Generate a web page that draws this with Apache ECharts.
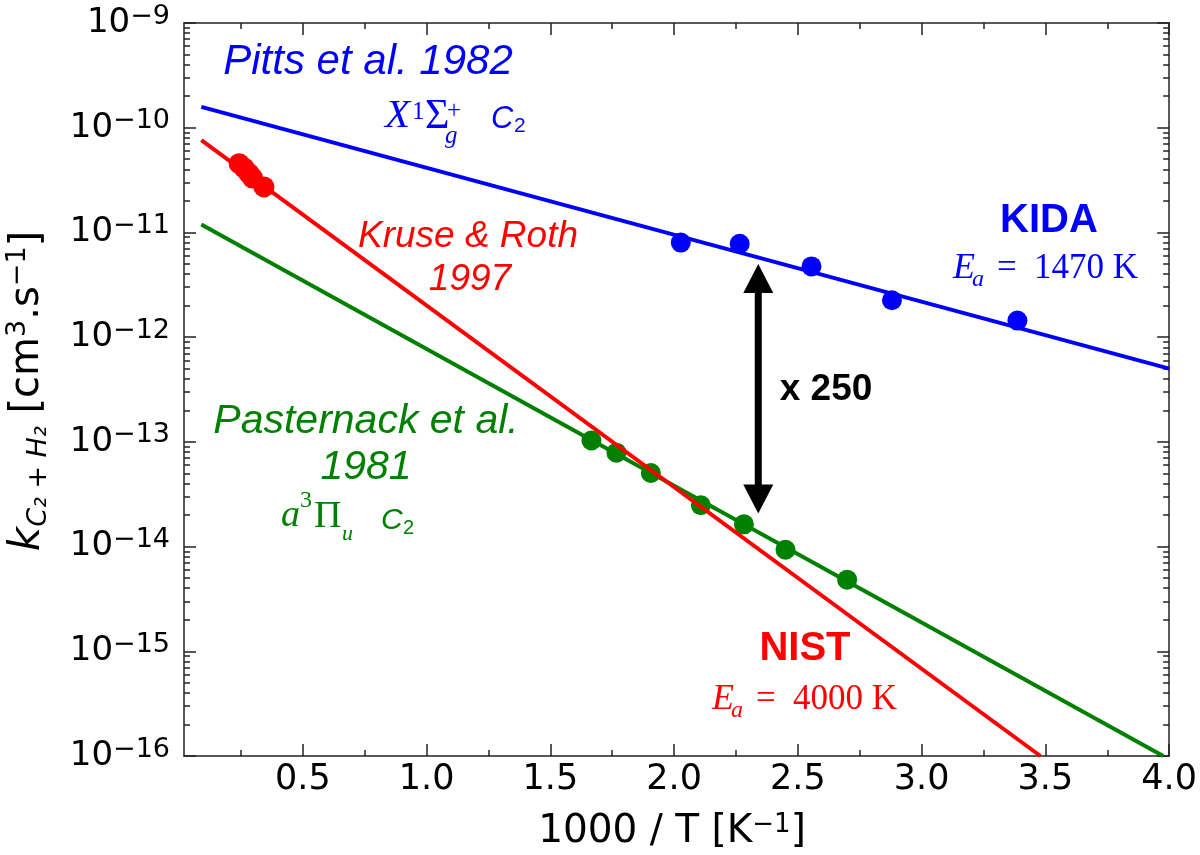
<!DOCTYPE html>
<html>
<head>
<meta charset="utf-8">
<script src="https://cdn.jsdelivr.net/npm/echarts@6/dist/echarts.min.js"></script>
<style>html,body{margin:0;padding:0;background:#fff;}#c{width:1200px;height:855px;}</style>
</head>
<body>
<div id="c"></div>
<script>
// ---- axis ticks ----
const X_TICKS = [0.5, 1.0, 1.5, 2.0, 2.5, 3.0, 3.5, 4.0];
const X_MINOR = [0.25, 0.75, 1.25, 1.75, 2.25, 2.75, 3.25, 3.75];
const X_MIN = 0.02, X_MAX = 4.0;
const Y_EXPONENTS = [-16, -15, -14, -13, -12, -11, -10, -9];
const MINOR_MULT = [2, 3, 4, 5, 6, 7, 8, 9];

// ---- data (k in cm^3 s^-1 vs 1000/T) ----
const blueLineX = [0.09, 4.0];
const blueLineK = [1.58e-10, 5.0e-13];
const bluePtsX = [2.027, 2.265, 2.555, 2.880, 3.387];
const bluePtsK = [8.0e-12, 7.8e-12, 4.74e-12, 2.25e-12, 1.44e-12];

const redLineX = [0.09, 3.48];
const redLineK = [7.6e-11, 1.0e-16];
const redPtsX = [0.243, 0.263, 0.283, 0.297, 0.343];
const redPtsK = [4.54e-11, 4.12e-11, 3.65e-11, 3.31e-11, 2.72e-11];

const greenLineX = [0.09, 3.976];
const greenLineK = [1.19e-11, 1.0e-16];
const greenPtsX = [1.666, 1.767, 1.906, 2.108, 2.282, 2.450, 2.699];
const greenPtsK = [1.03e-13, 7.88e-14, 5.04e-14, 2.48e-14, 1.63e-14, 9.33e-15, 4.83e-15];

const arrowX = [2.34];
const arrowTopK = [5.0e-12];
const arrowBotK = [2.07e-14];

// ---- helpers ----
const lg = v => Math.log10(v);
const pairs = (xs, ks) => xs.map((x, i) => [x, lg(ks[i])]);
const yMinor = [];
Y_EXPONENTS.slice(0, -1).forEach(e => MINOR_MULT.forEach(m => yMinor.push(e + Math.log10(m))));

const BLUE = '#0000ff', RED = '#ff0000', GREEN = '#008000';
const AX = '#222';

function xAx(pos, vals, len, showLine, showLabel) {
  return {
    type: 'value', position: pos, min: X_MIN, max: X_MAX,
    axisLine: { show: showLine, onZero: false, lineStyle: { color: AX, width: 1.5 } },
    axisTick: { show: true, inside: true, length: len, customValues: vals, lineStyle: { color: AX, width: 1.5 } },
    axisLabel: showLabel ? {
      show: true, customValues: vals, margin: 6, color: '#000', fontSize: 35, fontFamily: 'DejaVu Sans',
      formatter: v => v.toFixed(1)
    } : { show: false },
    splitLine: { show: false }
  };
}
function yAx(pos, minor, showLine, showLabel) {
  const o = {
    type: 'value', position: pos, min: -16, max: -9,
    axisLine: { show: showLine, onZero: false, lineStyle: { color: AX, width: 1.5 } },
    axisTick: { show: true, inside: true, length: minor ? 6 : 12, lineStyle: { color: AX, width: 1.5 } },
    axisLabel: { show: false },
    splitLine: { show: false }
  };
  if (minor) o.axisTick.customValues = yMinor; else o.interval = 1;
  if (showLabel) {
    o.axisLabel = {
      show: true, margin: 14, color: '#000', fontSize: 34, fontFamily: 'DejaVu Sans', lineHeight: 40,
      formatter: v => '10{s|\u2212' + Math.abs(Math.round(v)) + '}',
      rich: { s: { fontSize: 27, lineHeight: 27, verticalAlign: 'top', fontFamily: 'DejaVu Sans', color: '#000' } }
    };
  }
  return o;
}

function T(text, x, y, size, color, opts) {
  opts = opts || {};
  return {
    type: 'text', x: x, y: y, z: 100, rotation: opts.rot || 0,
    style: {
      text: text, fill: color, fontSize: size,
      fontFamily: opts.family || 'Liberation Sans',
      fontStyle: opts.italic ? 'italic' : 'normal',
      fontWeight: opts.bold ? 'bold' : 'normal',
      align: opts.align || 'center', verticalAlign: 'middle',
      textAlign: opts.align || 'center', textVerticalAlign: 'middle',
      rich: opts.rich
    }
  };
}
const SERIF = 'Liberation Serif';

const graphics = [
  // Pitts
  T('Pitts et al. 1982', 368, 62, 42, BLUE, { italic: true }),
  T('X', 385, 116, 41, BLUE, { italic: true, family: SERIF, align: 'left' }),
  T('1', 412, 112, 25, BLUE, { family: SERIF, align: 'left' }),
  T('\u03A3', 425, 117, 42, BLUE, { family: SERIF, align: 'left' }),
  T('+', 447, 111, 25, BLUE, { family: SERIF, align: 'left' }),
  T('g', 445, 136, 25, BLUE, { italic: true, family: SERIF, align: 'left' }),
  T('C', 491, 119, 31, BLUE, { italic: true, align: 'left' }),
  T('2', 514, 126, 21, BLUE, { align: 'left' }),
  // KIDA
  T('KIDA', 1049, 221, 40, BLUE, { bold: true }),
  T('E', 953, 269, 36, BLUE, { italic: true, family: SERIF, align: 'left' }),
  T('a', 972, 280, 24, BLUE, { italic: true, family: SERIF, align: 'left' }),
  T('=', 997, 269, 35, BLUE, { family: SERIF, align: 'left' }),
  T('1470 K', 1034, 269, 35, BLUE, { family: SERIF, align: 'left' }),
  // Kruse & Roth
  T('Kruse & Roth', 468, 237, 37, RED, { italic: true }),
  T('1997', 470, 280, 37, RED, { italic: true }),
  // NIST
  T('NIST', 805, 649, 40, RED, { bold: true }),
  T('E', 712, 700, 36, RED, { italic: true, family: SERIF, align: 'left' }),
  T('a', 731, 711, 24, RED, { italic: true, family: SERIF, align: 'left' }),
  T('=', 756, 700, 35, RED, { family: SERIF, align: 'left' }),
  T('4000 K', 793, 700, 35, RED, { family: SERIF, align: 'left' }),
  // Pasternack
  T('Pasternack et al.', 366, 422, 41, GREEN, { italic: true }),
  T('1981', 366, 468, 41, GREEN, { italic: true }),
  T('a', 281, 516, 38, GREEN, { italic: true, family: SERIF, align: 'left' }),
  T('3', 300, 501, 24, GREEN, { family: SERIF, align: 'left' }),
  T('\u03A0', 314, 517, 38, GREEN, { family: SERIF, align: 'left' }),
  T('u', 342, 534, 22, GREEN, { italic: true, family: SERIF, align: 'left' }),
  T('C', 381, 521, 30, GREEN, { italic: true, align: 'left' }),
  T('2', 403, 528, 20, GREEN, { align: 'left' }),
  // x 250
  T('x 250', 826, 390, 37, '#000', { bold: true }),
  // axis titles
  T('1000 / T [K{sup|\u22121}]', 672, 832, 39, '#000', {
    family: 'DejaVu Sans',
    rich: { sup: { fontSize: 26, lineHeight: 26, verticalAlign: 'top', fontFamily: 'DejaVu Sans', fill: '#000' } }
  }),
  T('{k|k}{sub|C\u2082 + H\u2082} [cm{sup|3}.s{sup|\u22121}]', 28, 391, 40, '#000', {
    family: 'DejaVu Sans', rot: Math.PI / 2,
    rich: {
      k: { fontSize: 42, fontStyle: 'italic', fontFamily: 'DejaVu Sans', lineHeight: 48, fill: '#000' },
      sub: { fontSize: 27, fontStyle: 'italic', fontFamily: 'DejaVu Sans', lineHeight: 27, verticalAlign: 'bottom', fill: '#000' },
      sup: { fontSize: 27, fontFamily: 'DejaVu Sans', lineHeight: 27, verticalAlign: 'top', fill: '#000' }
    }
  })
];

const chart = echarts.init(document.getElementById('c'), null, { renderer: 'canvas' });
chart.setOption({
  animation: false,
  backgroundColor: '#fff',
  grid: { left: 184, right: 29, top: 23, bottom: 99, containLabel: false },
  xAxis: [
    xAx('bottom', X_TICKS, 12, true, true),
    xAx('bottom', X_MINOR, 6, false, false),
    xAx('top', X_TICKS, 12, true, false),
    xAx('top', X_MINOR, 6, false, false)
  ],
  yAxis: [
    yAx('left', false, true, true),
    yAx('left', true, false, false),
    yAx('right', false, true, false),
    yAx('right', true, false, false)
  ],
  graphic: graphics,
  series: [
    { type: 'line', data: pairs(blueLineX, blueLineK), showSymbol: false, symbol: 'none', lineStyle: { color: BLUE, width: 4 }, z: 2 },
    { type: 'scatter', data: pairs(bluePtsX, bluePtsK), symbolSize: 20, itemStyle: { color: BLUE, opacity: 1 }, z: 3 },
    { type: 'line', data: pairs(greenLineX, greenLineK), showSymbol: false, symbol: 'none', lineStyle: { color: GREEN, width: 4 }, z: 4 },
    { type: 'scatter', data: pairs(greenPtsX, greenPtsK), symbolSize: 20, itemStyle: { color: GREEN, opacity: 1 }, z: 5 },
    { type: 'line', data: pairs(redLineX, redLineK), showSymbol: false, symbol: 'none', lineStyle: { color: RED, width: 4 }, z: 6 },
    { type: 'scatter', data: pairs(redPtsX, redPtsK), symbolSize: 21, itemStyle: { color: RED, opacity: 1 }, z: 7 },
    {
      type: 'custom', z: 8,
      data: arrowX.map((x, i) => [x, lg(arrowTopK[i]), lg(arrowBotK[i])]),
      renderItem: function (params, api) {
        const p1 = api.coord([api.value(0), api.value(1)]);
        const p2 = api.coord([api.value(0), api.value(2)]);
        const hw = 15, hl = 29, sw = 3.5;
        return {
          type: 'group', children: [
            { type: 'rect', shape: { x: p1[0] - sw, y: p1[1] + hl - 2, width: sw * 2, height: (p2[1] - p1[1]) - 2 * hl + 4 }, style: { fill: '#000' } },
            { type: 'polygon', shape: { points: [[p1[0], p1[1]], [p1[0] - hw, p1[1] + hl], [p1[0] + hw, p1[1] + hl]] }, style: { fill: '#000' } },
            { type: 'polygon', shape: { points: [[p2[0], p2[1]], [p2[0] - hw, p2[1] - hl], [p2[0] + hw, p2[1] - hl]] }, style: { fill: '#000' } }
          ]
        };
      }
    }
  ]
});
</script>
</body>
</html>
